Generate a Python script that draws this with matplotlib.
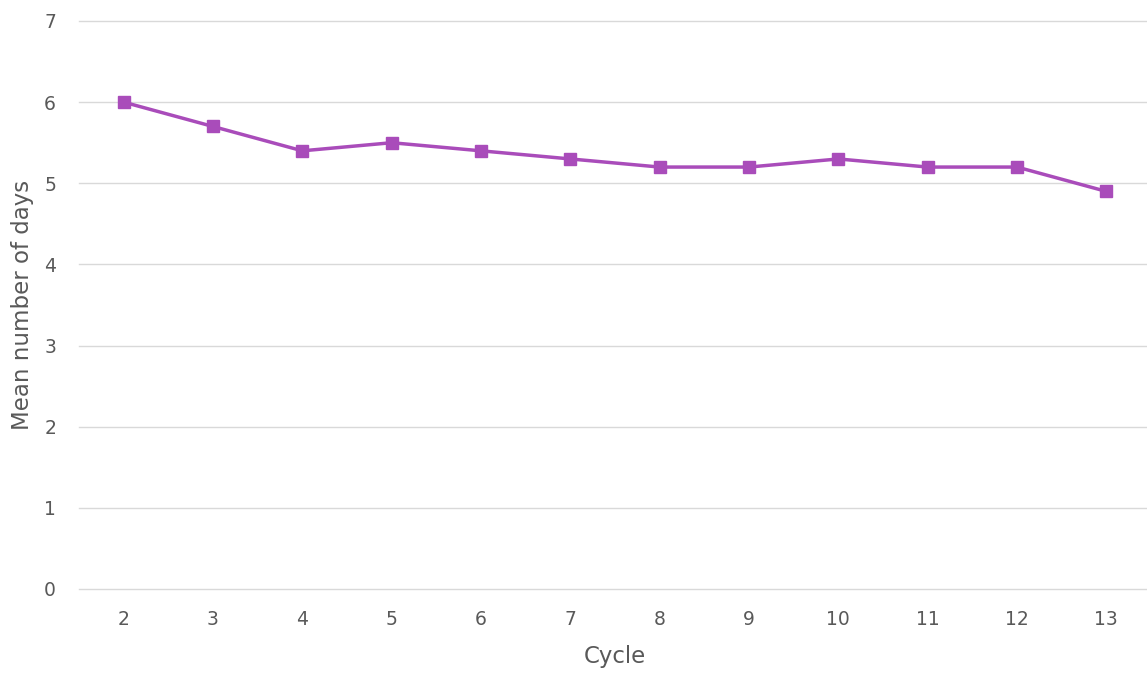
import matplotlib
matplotlib.use("Agg")
import matplotlib.pyplot as plt

cycles = ["2", "3", "4", "5", "6", "7", "8", "9", "10", "11", "12", "13"]
mean_days = [6.0, 5.7, 5.4, 5.5, 5.4, 5.3, 5.2, 5.2, 5.3, 5.2, 5.2, 4.9]
y_ticks = [0, 1, 2, 3, 4, 5, 6, 7]

plt.rcParams['font.family'] = ['DejaVu Sans']
text_color = "#595959"
line_color = "#A94CBA"

fig = plt.figure(figsize=(11.47, 6.75), dpi=100)
left = 79 / 1147
right = 1151 / 1147
bottom = 1 - 589 / 675
top = 1 - 21 / 675
ax = fig.add_axes([left, bottom, right - left, top - bottom])

x = list(range(len(cycles)))
ax.plot(x, mean_days, color=line_color, linewidth=2.5, marker="s", markersize=8,
        markerfacecolor=line_color, markeredgecolor=line_color, clip_on=False, zorder=3)

ax.set_xlim(-0.5, len(cycles) - 0.5)
ax.set_ylim(0, 7)
ax.set_xticks(x)
ax.set_xticklabels(cycles)
ax.set_yticks(y_ticks)
ax.set_yticklabels([str(t) for t in y_ticks])

ax.grid(axis="y", color="#D9D9D9", linewidth=1)
for gl in ax.get_ygridlines():
    gl.set_clip_on(False)
ax.set_axisbelow(True)
for s in ax.spines.values():
    s.set_visible(False)
ax.tick_params(axis="both", length=0, colors=text_color, labelsize=13.5)
ax.tick_params(axis="y", pad=16.5)
ax.tick_params(axis="x", pad=15)

ax.set_xlabel("Cycle", color=text_color, fontsize=16.5)
ax.set_ylabel("Mean number of days", color=text_color, fontsize=16.5)
ax.xaxis.label.set_va("center")
ax.yaxis.label.set_va("center")
ax.xaxis.set_label_coords(0.5, -(656 - 589) / 568)
ax.yaxis.set_label_coords(-(79 - 23) / 1072, 0.5)

fig.savefig("out.png", dpi=100)
